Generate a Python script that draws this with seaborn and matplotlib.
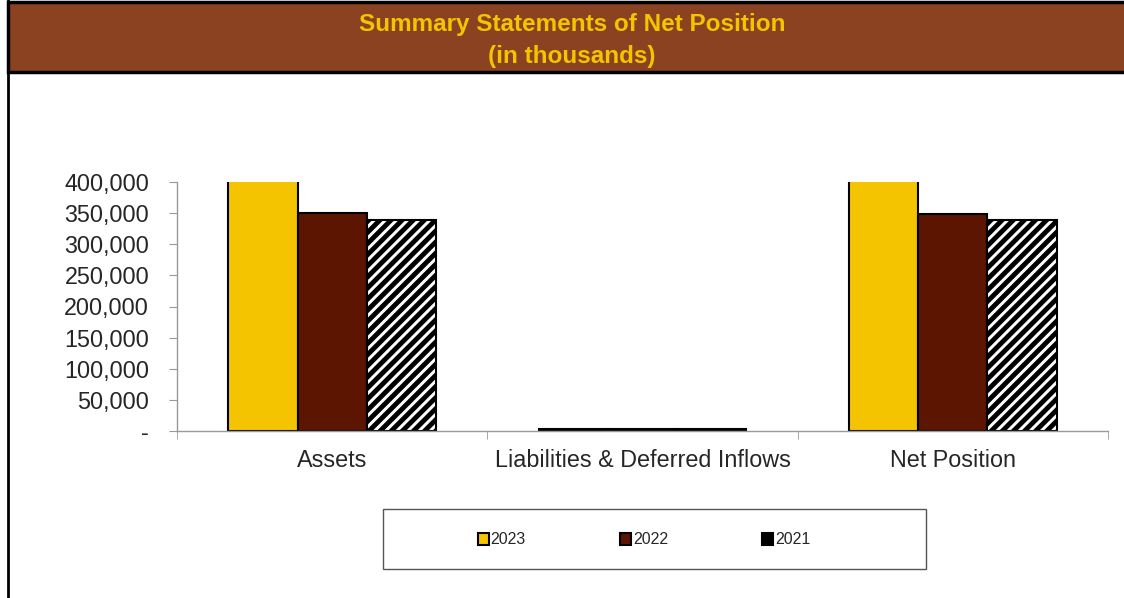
import numpy as np
import pandas as pd
import matplotlib
matplotlib.use('Agg')
import matplotlib.pyplot as plt
import seaborn as sns
from matplotlib.patches import Rectangle, Patch
from matplotlib.ticker import FuncFormatter, FixedLocator

# dati (in migliaia)
categories = ['Assets', 'Liabilities & Deferred Inflows', 'Net Position']
years = ['2023', '2022', '2021']
values_2023 = [432000, 3000, 430000]
values_2022 = [350000, 3000, 348500]
values_2021 = [339000, 3000, 339000]
year_colors = ['#F5C400', '#5C1500', '#FFFFFF']
y_ticks = [0, 50000, 100000, 150000, 200000, 250000, 300000, 350000, 400000]

df = pd.DataFrame({
    'category': categories * 3,
    'year': [y for y in years for _ in categories],
    'value': values_2023 + values_2022 + values_2021,
})

sns.set_style('white')
plt.rcParams['font.family'] = ['Liberation Sans', 'DejaVu Sans']
plt.rcParams['hatch.linewidth'] = 3.5

fig = plt.figure(figsize=(11.24, 5.98), dpi=100)
ax = fig.add_axes([177 / 1124, 1 - 431 / 598, (1108 - 177) / 1124, (431 - 182) / 598])

sns.barplot(data=df, x='category', y='value', hue='year', hue_order=years,
            palette=year_colors, width=0.67, gap=0, edgecolor='black',
            linewidth=1.5, saturation=1, legend=False, ax=ax)

# barre 2021 a strisce
for bar in ax.containers[2]:
    bar.set_hatch('///')
    bar.set_facecolor('white')
    bar.set_edgecolor('black')

ax.set_ylim(0, 400000)
ax.set_xlim(-0.5, 2.5)
ax.set_yticks(y_ticks)
ax.yaxis.set_major_formatter(FuncFormatter(lambda v, p: '-' if v == 0 else f'{v:,.0f}'))
ax.set_xlabel('')
ax.set_ylabel('')

for s in ['top', 'right']:
    ax.spines[s].set_visible(False)
for s in ['left', 'bottom']:
    ax.spines[s].set_color('#999999')
    ax.spines[s].set_linewidth(1)

ax.tick_params(axis='y', which='major', left=True, length=6, color='#999999',
               labelsize=16.8, pad=14)
ax.tick_params(axis='x', which='major', length=0, labelsize=16.8, pad=13)
ax.xaxis.set_minor_locator(FixedLocator([-0.5, 0.5, 1.5, 2.5]))
ax.tick_params(axis='x', which='minor', bottom=True, length=6, color='#999999')

# intestazione
fig.add_artist(Rectangle((8 / 1124, 1 - 72 / 598), 1, 70 / 598,
                         transform=fig.transFigure, facecolor='#8B4220',
                         edgecolor='black', linewidth=2.5))
fig.text(572 / 1124, 1 - 25 / 598, 'Summary Statements of Net Position', ha='center',
         va='center', fontsize=17.5, fontweight='bold', color='#F5C400')
fig.text(572 / 1124, 1 - 57 / 598, '(in thousands)', ha='center', va='center',
         fontsize=17.5, fontweight='bold', color='#F5C400')
fig.add_artist(plt.Line2D([8 / 1124, 8 / 1124], [0, 1], transform=fig.transFigure,
                          color='black', linewidth=2))

# legenda
fig.add_artist(Rectangle((383 / 1124, 1 - 569 / 598), 543 / 1124, 60 / 598,
                         transform=fig.transFigure, facecolor='white',
                         edgecolor='#555555', linewidth=1))
handles = [Patch(facecolor=c, edgecolor='black', linewidth=1.5)
           for c in ['#F5C400', '#5C1500', 'black']]
fig.legend(handles, years, loc='center', bbox_to_anchor=(644 / 1124, 1 - 540 / 598),
           ncol=3, frameon=False, fontsize=11.5, handlelength=0.7, handleheight=0.7,
           handletextpad=0.1, columnspacing=5.9)

fig.savefig('out.png', dpi=100)
